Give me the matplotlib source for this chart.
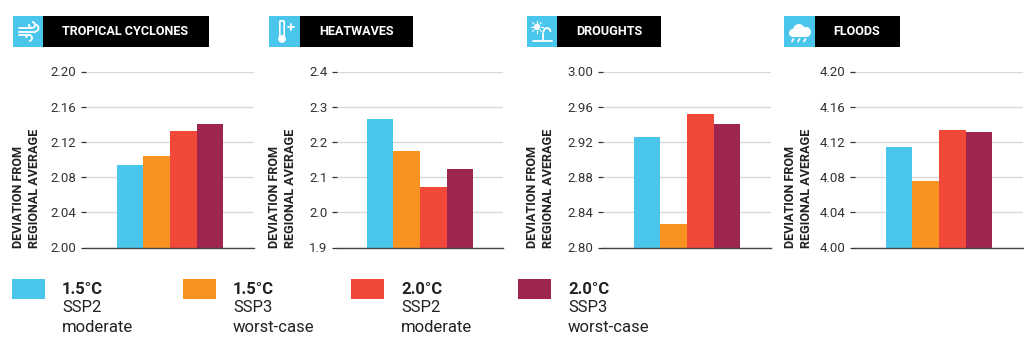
import matplotlib
matplotlib.use('Agg')
import matplotlib.pyplot as plt
import matplotlib.patches as patches
import numpy as np

W, H = 1024, 364

titles = ["TROPICAL CYCLONES", "HEATWAVES", "DROUGHTS", "FLOODS"]
cyclones = [2.094, 2.104, 2.132, 2.140]
heatwaves = [2.265, 2.173, 2.072, 2.123]
droughts = [2.926, 2.827, 2.952, 2.940]
floods = [4.114, 4.076, 4.134, 4.131]
cyclone_ticks = [2.00, 2.04, 2.08, 2.12, 2.16, 2.20]
heatwave_ticks = [1.9, 2.0, 2.1, 2.2, 2.3, 2.4]
drought_ticks = [2.80, 2.84, 2.88, 2.92, 2.96, 3.00]
flood_ticks = [4.00, 4.04, 4.08, 4.12, 4.16, 4.20]
legend_temp = ["1.5°C", "1.5°C", "2.0°C", "2.0°C"]
legend_ssp = ["SSP2", "SSP3", "SSP2", "SSP3"]
legend_case = ["moderate", "worst-case", "moderate", "worst-case"]
colors = ["#4AC6EC", "#F89322", "#F2483A", "#9E254D"]

plt.rcParams['font.family'] = ['Roboto', 'DejaVu Sans']
fig = plt.figure(figsize=(W / 100, H / 100), dpi=100, facecolor='white')

# overlay in pixel coordinates for headers, icons and legend
ov = fig.add_axes([0, 0, 1, 1], zorder=5)
ov.set_xlim(0, W)
ov.set_ylim(H, 0)
ov.axis('off')


def panel(left, right, values, ticks, fmt, ylab_x, box):
    ax = fig.add_axes([left / W, 1 - 247.5 / H, (right - left) / W, 176 / H])
    ax.bar(range(4), values, width=1.0, color=colors, zorder=3)
    # about 26.7 px per bar, group centred in the plot width
    span = (right - left) / 26.7
    ax.set_xlim(1.5 - span / 2, 1.5 + span / 2)
    ax.set_ylim(ticks[0], ticks[-1])
    ax.set_yticks(ticks)
    ax.set_yticklabels([fmt % t for t in ticks], fontsize=9.5, color="#333333")
    ax.set_xticks([])
    ax.tick_params(axis='y', length=3.8, width=0.9, color="#333333", pad=3)
    ax.grid(axis='y', color="#D9D9D9", linewidth=1, zorder=0)
    for s in ['top', 'right', 'left']:
        ax.spines[s].set_visible(False)
    ax.spines['bottom'].set_color("#444444")
    ax.spines['bottom'].set_linewidth(1.0)
    ax.spines['bottom'].set_zorder(4)
    ov.text(ylab_x, 248, "DEVIATION FROM", rotation=90, ha='center', va='bottom',
            fontsize=9.1, fontweight='bold', color="#222222")
    ov.text(ylab_x + 16, 248, "REGIONAL AVERAGE", rotation=90, ha='center', va='bottom',
            fontsize=9.1, fontweight='bold', color="#222222")
    x0, x1, x2 = box
    ov.add_patch(patches.Rectangle((x0, 16), x1 - x0, 31, color=colors[0], lw=0))
    ov.add_patch(patches.Rectangle((x1, 16), x2 - x1, 31, color='black', lw=0))
    return ax


panel(86, 254, cyclones, cyclone_ticks, '%.2f', 19, (13, 43, 209))
panel(337, 503, heatwaves, heatwave_ticks, '%.1f', 275, (269, 300, 413))
panel(603, 771, droughts, drought_ticks, '%.2f', 533, (527, 557, 661))
panel(855, 1023, floods, flood_ticks, '%.2f', 790, (784, 815, 900))

for t, x in zip(titles, [62, 319, 576, 833]):
    ov.text(x, 31.5, t, ha='left', va='center', color='white', fontsize=9.1, fontweight='bold')

# header icons, white line drawings
iw = dict(color='white', lw=1.3, solid_capstyle='round')
# wind
ov.plot([19, 31], [28, 28], **iw)
ov.plot([19, 35], [31.5, 31.5], **iw)
ov.plot([19, 30], [35, 35], **iw)
ov.add_patch(patches.Arc((32, 25), 6, 6, theta1=-90, theta2=200, color='white', lw=1.3))
ov.add_patch(patches.Arc((35, 28), 7, 7, theta1=-90, theta2=90, color='white', lw=1.3))
ov.add_patch(patches.Arc((29, 38), 6, 6, theta1=180, theta2=90, color='white', lw=1.3))
# thermometer
ov.add_patch(patches.FancyBboxPatch((281, 22), 2, 14, boxstyle='round,pad=1.2', fc='none', ec='white', lw=1.2))
ov.add_patch(patches.Circle((282, 39), 3.5, fc='white', ec='white', lw=0.5))
ov.plot([288, 294], [27, 27], **iw)
ov.plot([291, 291], [24, 30], **iw)
# sun and tap
ov.add_patch(patches.Circle((537, 27), 3.2, fc='white', lw=0))
for a in np.arange(0, 360, 45):
    ov.plot([537 + 4.4 * np.cos(np.radians(a)), 537 + 6 * np.cos(np.radians(a))],
            [27 + 4.4 * np.sin(np.radians(a)), 27 + 6 * np.sin(np.radians(a))], color='white', lw=0.8)
ov.plot([533, 552], [41, 41], **iw)
ov.plot([543, 543], [41, 33], **iw)
ov.add_patch(patches.Arc((547, 32), 7, 8, theta1=180, theta2=360, color='white', lw=1.3))
# cloud and rain
for cx, cy, r in [(793, 33, 4), (799, 30, 6), (806, 32, 5)]:
    ov.add_patch(patches.Circle((cx, cy), r, fc='white', lw=0))
ov.add_patch(patches.Rectangle((793, 32), 14, 5, fc='white', lw=0))
for x in [792, 798, 804]:
    ov.plot([x, x + 1.5], [41.5, 39], **iw)

# legend
swatch_x = [12, 183, 351, 518]
text_x = [62, 233, 401, 568]
for i in range(4):
    ov.add_patch(patches.Rectangle((swatch_x[i], 279), 33, 20, color=colors[i], lw=0))
    ov.text(text_x[i], 289, legend_temp[i], fontsize=12, fontweight='bold', color="#222222", va='center')
    ov.text(text_x[i], 308, legend_ssp[i], fontsize=12, color="#222222", va='center')
    ov.text(text_x[i], 328, legend_case[i], fontsize=12, color="#222222", va='center')

fig.savefig('out.png', dpi=100, facecolor='white')
plt.close()
